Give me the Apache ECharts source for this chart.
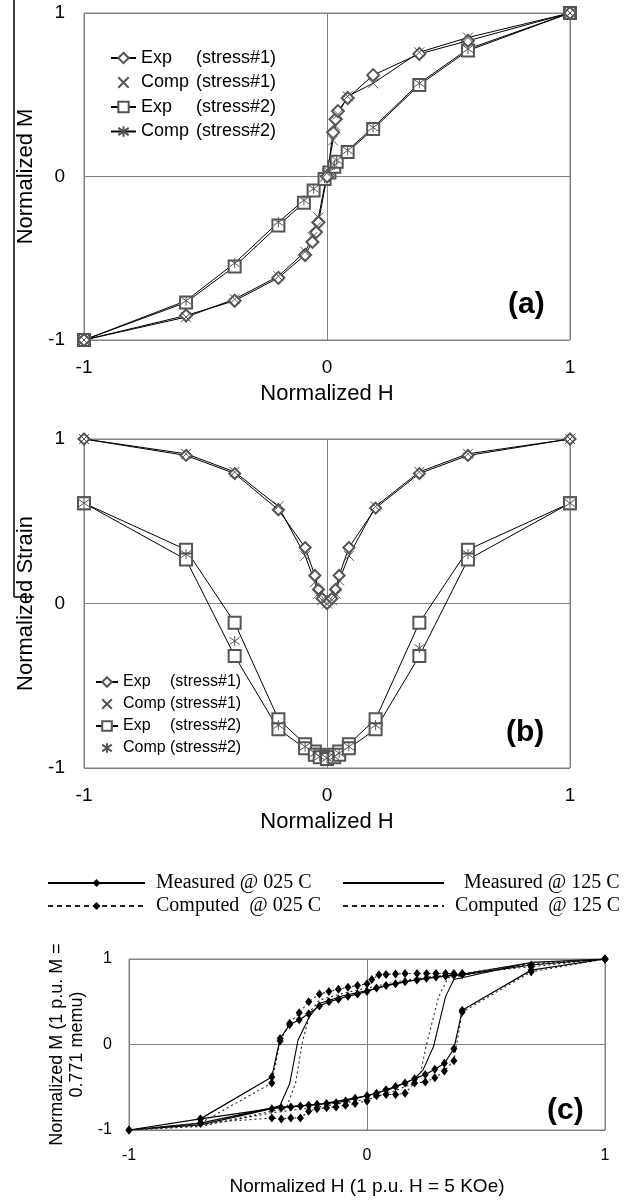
<!DOCTYPE html>
<html>
<head>
<meta charset="utf-8">
<script src="https://cdn.jsdelivr.net/npm/echarts@6/dist/echarts.min.js"></script>
<style>
	html, body { margin: 0; padding: 0; background: #fff; }
	#chart { width: 633px; height: 1202px; }
</style>
</head>
<body>
<div id="chart"></div>
<script>
// (a) normalized M vs normalized H
const hA1 = [-1, -0.58, -0.38, -0.2, -0.09, -0.06, -0.045, -0.035, 0, 0.025, 0.035, 0.045, 0.085, 0.19, 0.38, 0.58, 1];
const mExpA1 = [-1, -0.85, -0.76, -0.62, -0.48, -0.40, -0.34, -0.28, 0, 0.27, 0.35, 0.40, 0.48, 0.62, 0.75, 0.83, 1];
const mCompA1 = [-1, -0.86, -0.75, -0.61, -0.46, -0.37, -0.31, -0.25, 0.02, 0.22, 0.31, 0.38, 0.49, 0.57, 0.76, 0.85, 1];
const hA2 = [-1, -0.58, -0.38, -0.2, -0.095, -0.055, -0.01, 0.01, 0.03, 0.04, 0.085, 0.19, 0.38, 0.58, 1];
const mExpA2 = [-1, -0.77, -0.55, -0.30, -0.16, -0.085, -0.015, 0.025, 0.06, 0.09, 0.15, 0.29, 0.56, 0.77, 1];
const mCompA2 = [-1, -0.76, -0.53, -0.28, -0.145, -0.075, -0.01, 0.03, 0.07, 0.10, 0.16, 0.30, 0.57, 0.78, 1];

// (b) normalized strain vs normalized H
const hB1 = [-1, -0.58, -0.38, -0.2, -0.09, -0.05, -0.035, -0.02, 0, 0.02, 0.035, 0.05, 0.09, 0.2, 0.38, 0.58, 1];
const sExpB1 = [1, 0.90, 0.79, 0.57, 0.34, 0.17, 0.085, 0.03, 0, 0.03, 0.085, 0.17, 0.34, 0.58, 0.79, 0.90, 1];
const sCompB1 = [1, 0.91, 0.80, 0.59, 0.29, 0.13, 0.06, 0.02, 0, 0.02, 0.06, 0.14, 0.29, 0.59, 0.80, 0.91, 1];
const hB2 = [-1, -0.58, -0.38, -0.2, -0.09, -0.05, -0.03, 0, 0.03, 0.05, 0.09, 0.2, 0.38, 0.58, 1];
const sExpB2U = [0.61, 0.327, -0.117, -0.703, -0.855, -0.90, -0.92, -0.93, -0.92, -0.90, -0.855, -0.703, -0.117, 0.327, 0.61];
const sExpB2L = [0.61, 0.267, -0.319, -0.764, -0.88, -0.92, -0.935, -0.945, -0.935, -0.92, -0.88, -0.764, -0.319, 0.267, 0.61];
const sCompB2 = [0.61, 0.30, -0.228, -0.74, -0.87, -0.91, -0.93, -0.94, -0.93, -0.91, -0.87, -0.74, -0.27, 0.30, 0.61];

// (c) hysteresis loops, down sweep then up sweep
const hMea025 = [1, 0.69, 0.40, 0.365, 0.33, 0.29, 0.25, 0.21, 0.16, 0.12, 0.08, 0.04, 0, -0.04, -0.08, -0.12, -0.16, -0.20, -0.245, -0.285, -0.325, -0.365, -0.40, -0.70, -1,
	-0.70, -0.40, -0.36, -0.32, -0.28, -0.245, -0.21, -0.17, -0.13, -0.09, -0.05, 0, 0.04, 0.08, 0.12, 0.16, 0.20, 0.245, 0.285, 0.325, 0.365, 0.40, 0.69, 1];
const mMea025 = [1, 0.93, 0.815, 0.81, 0.80, 0.79, 0.775, 0.755, 0.735, 0.71, 0.69, 0.66, 0.62, 0.59, 0.565, 0.53, 0.50, 0.45, 0.36, 0.29, 0.23, 0.07, -0.38, -0.87, -1,
	-0.87, -0.75, -0.74, -0.73, -0.72, -0.71, -0.70, -0.69, -0.68, -0.66, -0.63, -0.60, -0.57, -0.53, -0.49, -0.45, -0.40, -0.35, -0.29, -0.22, -0.05, 0.40, 0.87, 1];
const hCom025 = [1, 0.69, 0.40, 0.365, 0.33, 0.29, 0.25, 0.21, 0.16, 0.12, 0.08, 0.05, 0.02, 0, -0.04, -0.08, -0.12, -0.16, -0.20, -0.245, -0.285, -0.325, -0.365, -0.40, -0.70, -1,
	-0.70, -0.40, -0.36, -0.32, -0.28, -0.245, -0.21, -0.17, -0.13, -0.09, -0.05, 0, 0.04, 0.08, 0.12, 0.16, 0.20, 0.245, 0.285, 0.325, 0.365, 0.40, 0.69, 1];
const mCom025 = [1, 0.91, 0.83, 0.83, 0.83, 0.83, 0.83, 0.83, 0.83, 0.825, 0.82, 0.815, 0.76, 0.71, 0.69, 0.67, 0.645, 0.62, 0.59, 0.50, 0.37, 0.25, 0.04, -0.45, -0.92, -1,
	-0.92, -0.86, -0.87, -0.86, -0.86, -0.78, -0.75, -0.74, -0.73, -0.71, -0.69, -0.66, -0.60, -0.585, -0.585, -0.57, -0.45, -0.44, -0.39, -0.31, -0.19, 0.38, 0.85, 1];
const hMea125 = [1, 0.69, 0.40, 0.30, 0.20, 0.10, 0, -0.10, -0.20, -0.245, -0.29, -0.325, -0.365, -0.40, -0.70, -1,
	-0.70, -0.40, -0.20, 0, 0.10, 0.20, 0.235, 0.28, 0.33, 0.365, 0.69, 1];
const mMea125 = [1, 0.96, 0.82, 0.79, 0.755, 0.70, 0.63, 0.57, 0.48, 0.31, 0.05, -0.46, -0.71, -0.75, -0.94, -1,
	-0.92, -0.74, -0.70, -0.60, -0.52, -0.40, -0.30, -0.02, 0.56, 0.76, 0.96, 1];
const hCom125 = [1, 0.69, 0.40, 0.30, 0.20, 0.10, 0, -0.10, -0.20, -0.235, -0.27, -0.30, -0.34, -0.40, -0.70, -1,
	-0.70, -0.40, -0.20, 0, 0.10, 0.20, 0.225, 0.25, 0.30, 0.34, 0.69, 1];
const mCom125 = [1, 0.95, 0.83, 0.80, 0.77, 0.72, 0.66, 0.60, 0.52, 0.40, 0.05, -0.45, -0.75, -0.78, -0.96, -1,
	-0.95, -0.80, -0.73, -0.64, -0.56, -0.45, -0.33, 0.0, 0.55, 0.78, 0.94, 1];

const axisTicks = [-1, 0, 1];

const pair = (xs, ys) => xs.map((x, i) => [x, ys[i]]);
const SANS = "'Liberation Sans', Arial, sans-serif";
const SERIF = "'Liberation Serif', 'Times New Roman', serif";
const CROSS = "path://M0,0L10,10M10,0L0,10";
const STAR = "path://M5,0L5,10M0,1.5L10,8.5M10,1.5L0,8.5";

const legendText = {
	aExp1: ["Exp", "(stress#1)"], aComp1: ["Comp", "(stress#1)"],
	aExp2: ["Exp", "(stress#2)"], aComp2: ["Comp", "(stress#2)"],
	bExp1: ["Exp", "(stress#1)"], bComp1: ["Comp", "(stress#1)"],
	bExp2: ["Exp", "(stress#2)"], bComp2: ["Comp", "(stress#2)"],
	cMea025: "Measured @ 025 C", cCom025: "Computed  @ 025 C",
	cMea125: "Measured @ 125 C", cCom125: "Computed  @ 125 C"
};

function valueAxis(idx, fontSize, margin, extra) {
	return Object.assign({
		type: "value",
		gridIndex: idx,
		min: axisTicks[0],
		max: axisTicks[axisTicks.length - 1],
		interval: 1,
		axisTick: { show: false },
		axisLine: { show: false },
		splitLine: { show: true, lineStyle: { color: "#808080", width: 1 } },
		axisLabel: { color: "#000", fontSize: fontSize, fontFamily: SANS, margin: margin },
		nameTextStyle: { color: "#000", fontSize: 22, fontFamily: SANS }
	}, extra);
}

const markerStyle = { color: "#555", borderColor: "#555", borderWidth: 1 };
function openSeries(name, xi, data, symbol, size, showLine) {
	return {
		name: name,
		type: "line",
		xAxisIndex: xi,
		yAxisIndex: xi,
		data: data,
		symbol: symbol,
		symbolSize: size,
		lineStyle: { color: "#000", width: 1, opacity: showLine ? 1 : 0 },
		itemStyle: markerStyle,
		emphasis: { disabled: true }
	};
}

function richLegend(left, top, fontSize, firstWidth, gap, iw, ih, data) {
	return {
		left: left,
		top: top,
		orient: "vertical",
		itemWidth: iw,
		itemHeight: ih,
		itemGap: gap,
		selectedMode: false,
		data: data,
		formatter: n => "{w|" + legendText[n][0] + "}{t|" + legendText[n][1] + "}",
		textStyle: {
			color: "#000",
			fontSize: fontSize,
			fontFamily: SANS,
			rich: {
				w: { width: firstWidth, fontSize: fontSize, fontFamily: SANS, color: "#000" },
				t: { fontSize: fontSize, fontFamily: SANS, color: "#000" }
			}
		}
	};
}

function loopLegend(name, left, top, iw, pad, extra) {
	return Object.assign({
		left: left,
		top: top,
		itemWidth: iw,
		itemHeight: 10,
		selectedMode: false,
		data: [name],
		formatter: n => legendText[n],
		textStyle: { color: "#000", fontSize: 20, fontFamily: SERIF, padding: [0, 0, 0, pad] }
	}, extra);
}

const chart = echarts.init(document.getElementById("chart"));
chart.setOption({
	animation: false,
	backgroundColor: "#fff",
	title: [
		{ text: "(a)", left: 508, top: 290, padding: 0, textStyle: { fontSize: 30, fontWeight: "bold", fontFamily: SANS, color: "#000" } },
		{ text: "(b)", left: 506, top: 718, padding: 0, textStyle: { fontSize: 30, fontWeight: "bold", fontFamily: SANS, color: "#000" } },
		{ text: "(c)", left: 547, top: 1096, padding: 0, textStyle: { fontSize: 30, fontWeight: "bold", fontFamily: SANS, color: "#000" } }
	],
	grid: [
		{ left: 84, right: 63, top: 13, height: 327, show: true, borderColor: "#808080", borderWidth: 1 },
		{ left: 84, right: 63, top: 439, height: 329, show: true, borderColor: "#808080", borderWidth: 1 },
		{ left: 129, right: 28, top: 959, height: 171, show: true, borderColor: "#808080", borderWidth: 1 }
	],
	xAxis: [
		valueAxis(0, 19, 18, { name: "Normalized H", nameLocation: "middle", nameGap: 43 }),
		valueAxis(1, 19, 18, { name: "Normalized H", nameLocation: "middle", nameGap: 43 }),
		valueAxis(2, 16, 18, { name: "Normalized H (1 p.u. H = 5 KOe)", nameLocation: "middle", nameGap: 47,
			nameTextStyle: { color: "#000", fontSize: 19, fontFamily: SANS } })
	],
	yAxis: [
		valueAxis(0, 19, 19, { name: "Normalized M", nameLocation: "middle", nameGap: 46, nameRotate: 90 }),
		valueAxis(1, 19, 19, { name: "Normalized Strain", nameLocation: "middle", nameGap: 47, nameRotate: 90 }),
		valueAxis(2, 16, 17, { name: "Normalized M (1 p.u. M =\n0.771 memu)", nameLocation: "middle", nameGap: 33, nameRotate: 90,
			nameTextStyle: { color: "#000", fontSize: 18, fontFamily: SANS, lineHeight: 20 } })
	],
	legend: [
		richLegend(105, 44, 18, 55, 6.5, 25, 13, [
			{ name: "aExp1" }, { name: "aComp1", lineStyle: { opacity: 0 } }, { name: "aExp2" }, { name: "aComp2" }
		]),
		richLegend(90, 669, 16, 47, 6, 22, 12, [
			{ name: "bExp1" }, { name: "bComp1", lineStyle: { opacity: 0 } }, { name: "bExp2" }, { name: "bComp2" }
		]),
		loopLegend("cMea025", 42, 868, 97, 6),
		loopLegend("cCom025", 42, 891, 97, 6, { data: [{ name: "cCom025", lineStyle: { type: [5, 4], opacity: 1 } }] }),
		loopLegend("cMea125", 337, 868, 101, 15, { data: [{ name: "cMea125", itemStyle: { opacity: 0 } }] }),
		loopLegend("cCom125", 337, 891, 101, 6, { data: [{ name: "cCom125", itemStyle: { opacity: 0 }, lineStyle: { type: [5, 4], opacity: 1 } }] })
	],
	graphic: [
		{ type: "line", shape: { x1: 14, y1: 0, x2: 14, y2: 597 }, style: { stroke: "#000", lineWidth: 1.5 } },
		{ type: "line", shape: { x1: 14, y1: 597, x2: 34, y2: 597 }, style: { stroke: "#000", lineWidth: 1.5 } }
	],
	series: [
		openSeries("aExp2", 0, pair(hA2, mExpA2), "emptyRect", 12, true),
		openSeries("aComp2", 0, pair(hA2, mCompA2), STAR, 10, true),
		openSeries("aExp1", 0, pair(hA1, mExpA1), "emptyDiamond", 12, true),
		openSeries("aComp1", 0, pair(hA1, mCompA1), CROSS, 10, true),

		openSeries("bExp2", 1, pair(hB2, sExpB2U), "emptyRect", 12, true),
		openSeries("bExp2L", 1, pair(hB2, sExpB2L), "emptyRect", 12, true),
		openSeries("bComp2", 1, pair(hB2, sCompB2), STAR, 10, false),
		openSeries("bExp1", 1, pair(hB1, sExpB1), "emptyDiamond", 11, true),
		openSeries("bComp1", 1, pair(hB1, sCompB1), CROSS, 10, true),

		{ name: "cMea125", type: "line", xAxisIndex: 2, yAxisIndex: 2, data: pair(hMea125, mMea125), symbol: "none",
			lineStyle: { color: "#000", width: 1.1 }, itemStyle: { color: "#000" } },
		{ name: "cCom125", type: "line", xAxisIndex: 2, yAxisIndex: 2, data: pair(hCom125, mCom125), symbol: "none",
			lineStyle: { color: "#222", width: 1.1, type: [2, 3] }, itemStyle: { color: "#000" } },
		{ name: "cCom025", type: "line", xAxisIndex: 2, yAxisIndex: 2, data: pair(hCom025, mCom025), symbol: "diamond", symbolSize: [7, 9],
			lineStyle: { color: "#222", width: 1.1, type: [2, 3] }, itemStyle: { color: "#000" } },
		{ name: "cMea025", type: "line", xAxisIndex: 2, yAxisIndex: 2, data: pair(hMea025, mMea025), symbol: "diamond", symbolSize: [7, 9],
			lineStyle: { color: "#000", width: 1.2 }, itemStyle: { color: "#000" } }
	]
});
</script>
</body>
</html>
